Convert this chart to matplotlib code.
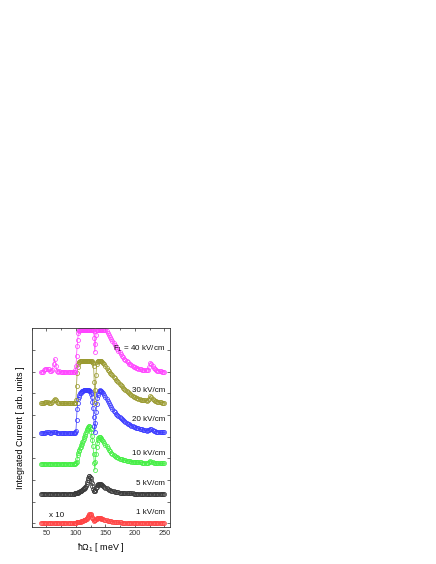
import numpy as np
import matplotlib
matplotlib.use('Agg')
import matplotlib.pyplot as plt
from matplotlib.ticker import MultipleLocator

plt.rcParams['font.family'] = ['Liberation Sans', 'DejaVu Sans']
plt.rcParams['mathtext.fontset'] = 'custom'
plt.rcParams['mathtext.rm'] = 'Liberation Sans'
plt.rcParams['mathtext.it'] = 'Liberation Sans'

# photon energy grid (meV): coarse, fine around the resonance, coarse
energy = np.concatenate([np.arange(40, 95, 2), np.arange(96, 145, 1), np.arange(146, 251, 2)])

# --- curves (relative to their own baseline) ---
i_1kV = ([0.0] * 28 +
         [0, 0, 0, 0, 0, 0.01, 0.01, 0.02, 0.02, 0.03,
          0.04, 0.05, 0.05, 0.06, 0.07, 0.08, 0.09, 0.1, 0.11, 0.12,
          0.14, 0.16, 0.18, 0.21, 0.25, 0.3, 0.35, 0.39, 0.4, 0.38,
          0.34, 0.28, 0.22, 0.16, 0.11, 0.09, 0.1, 0.12, 0.15, 0.18,
          0.2, 0.22, 0.23, 0.23, 0.22, 0.21, 0.2, 0.19, 0.18] +
         [0.16, 0.14, 0.12, 0.1, 0.09, 0.08, 0.07, 0.06, 0.05, 0.04,
          0.03, 0.03, 0.02, 0.02, 0.01, 0.01] + [0.0] * 37)

i_5kV = ([0.0] * 28 +
         [0, 0, 0.01, 0.01, 0.02, 0.03, 0.04, 0.05, 0.06, 0.08,
          0.09, 0.11, 0.12, 0.14, 0.16, 0.18, 0.2, 0.22, 0.25, 0.28,
          0.32, 0.37, 0.44, 0.53, 0.62, 0.72, 0.79, 0.8, 0.77, 0.7,
          0.6, 0.47, 0.34, 0.22, 0.13, 0.1, 0.12, 0.18, 0.25, 0.32,
          0.38, 0.42, 0.45, 0.46, 0.46, 0.45, 0.43, 0.41, 0.39] +
         [0.35, 0.31, 0.27, 0.24, 0.21, 0.18, 0.16, 0.14, 0.12, 0.1,
          0.09, 0.08, 0.07, 0.06, 0.05, 0.04, 0.04, 0.03, 0.03, 0.02,
          0.02, 0.02, 0.01, 0.01, 0.01, 0.01] + [0.0] * 27)

i_10kV = ([0.0] * 28 +
          [0, 0, 0, 0.01, 0.03, 0.09, 0.22, 0.38, 0.5, 0.58,
           0.65, 0.72, 0.78, 0.85, 0.92, 0.99, 1.06, 1.14, 1.22, 1.3,
           1.38, 1.46, 1.54, 1.61, 1.67, 1.71, 1.73, 1.72, 1.68, 1.6,
           1.48, 1.3, 1.08, 0.8, 0.45, 0.05, -0.3, 0.1, 0.45, 0.75,
           0.95, 1.08, 1.17, 1.22, 1.23, 1.22, 1.19, 1.15, 1.1] +
          [1.03, 0.95, 0.88, 0.8, 0.72, 0.64, 0.57, 0.5, 0.45, 0.4,
           0.36, 0.32, 0.29, 0.26, 0.24, 0.22, 0.2, 0.18, 0.16, 0.15,
           0.14, 0.13, 0.12, 0.11, 0.1, 0.09, 0.09, 0.08, 0.08, 0.07,
           0.07, 0.06, 0.06, 0.05, 0.05, 0.05, 0.04, 0.04, 0.05, 0.08,
           0.12, 0.1, 0.07, 0.05, 0.04, 0.03, 0.03, 0.02, 0.02, 0.02,
           0.01, 0.01, 0.01])

i_20kV = ([0, 0, 0, 0, 0.01, 0.02, 0.03, 0.02, 0.01, 0.01,
           0.02, 0.04, 0.06, 0.03, 0.01, 0] + [0.0] * 12 +
          [0, 0, 0, 0.02, 0.1, 0.6, 1.1, 1.4, 1.58, 1.68,
           1.76, 1.82, 1.86, 1.89, 1.92, 1.94, 1.95, 1.96, 1.97, 1.98,
           1.98, 1.98, 1.98, 1.98, 1.98, 1.98, 1.97, 1.95, 1.92, 1.87,
           1.78, 1.65, 1.45, 1.15, 0.75, 0.3, 0.02, 0.45, 0.95, 1.35,
           1.6, 1.76, 1.86, 1.92, 1.95, 1.96, 1.95, 1.93, 1.9] +
          [1.84, 1.76, 1.66, 1.56, 1.46, 1.37, 1.28, 1.19, 1.11, 1.03,
           0.96, 0.89, 0.83, 0.77, 0.72, 0.67, 0.62, 0.58, 0.54, 0.5,
           0.46, 0.43, 0.4, 0.37, 0.34, 0.31, 0.29, 0.27, 0.25, 0.23,
           0.21, 0.19, 0.17, 0.16, 0.14, 0.13, 0.12, 0.11, 0.12, 0.15,
           0.2, 0.18, 0.13, 0.09, 0.07, 0.06, 0.05, 0.04, 0.04, 0.03,
           0.03, 0.02, 0.02])

i_30kV = ([0, 0, 0.01, 0.03, 0.06, 0.08, 0.07, 0.04, 0.02, 0.03,
           0.06, 0.14, 0.2, 0.15, 0.06, 0.02, 0.01, 0, 0, 0,
           0, 0, 0, 0, 0, 0, 0, 0] +
          [0, 0, 0.01, 0.03, 0.15, 0.8, 1.4, 1.7, 1.84, 1.9,
           1.93, 1.95, 1.96, 1.96, 1.96, 1.96, 1.96, 1.96, 1.96, 1.96,
           1.96, 1.96, 1.96, 1.96, 1.96, 1.96, 1.96, 1.96, 1.96, 1.95,
           1.95, 1.94, 1.92, 1.88, 1.75, 1.0, 0.02, 0.6, 1.3, 1.8,
           1.93, 1.95, 1.96, 1.96, 1.96, 1.96, 1.96, 1.95, 1.93] +
          [1.88, 1.8, 1.72, 1.64, 1.56, 1.49, 1.42, 1.36, 1.29, 1.23,
           1.16, 1.1, 1.03, 0.97, 0.91, 0.85, 0.79, 0.73, 0.67, 0.62,
           0.57, 0.52, 0.47, 0.43, 0.39, 0.35, 0.32, 0.29, 0.26, 0.24,
           0.22, 0.2, 0.18, 0.17, 0.16, 0.15, 0.14, 0.13, 0.14, 0.22,
           0.33, 0.3, 0.22, 0.16, 0.12, 0.1, 0.08, 0.07, 0.06, 0.05,
           0.04, 0.04, 0.03])

i_40kV = ([0, 0.01, 0.04, 0.1, 0.15, 0.18, 0.18, 0.14, 0.08, 0.05,
           0.12, 0.4, 0.63, 0.3, 0.06, 0.04, 0.07, 0.03, 0.02, 0.04,
           0.02, 0.03, 0.02, 0.03, 0.02, 0.02, 0.03, 0.02] +
          [0.02, 0.02, 0.03, 0.1, 0.28, 0.74, 1.2, 1.5, 1.8, 1.92,
           1.96, 1.97] + [1.97] * 22 +
          [1.93, 1.6, 0.95, 1.3, 1.75, 1.94] + [1.97] * 9 +
          [1.97, 1.96, 1.95, 1.9, 1.82, 1.72, 1.62, 1.53, 1.45, 1.37,
           1.28, 1.19, 1.1, 1.01, 0.93, 0.85, 0.77, 0.7, 0.63, 0.57,
           0.51, 0.46, 0.41, 0.37, 0.33, 0.29, 0.26, 0.23, 0.21, 0.19,
           0.17, 0.15, 0.14, 0.13, 0.12, 0.11, 0.1, 0.1, 0.12, 0.25,
           0.44, 0.4, 0.28, 0.2, 0.15, 0.11, 0.09, 0.07, 0.06, 0.05,
           0.04, 0.03, 0.03])

series = [i_1kV, i_5kV, i_10kV, i_20kV, i_30kV, i_40kV]
offsets = [0.03, 1.37, 2.75, 4.17, 5.53, 6.96]
colors = ['#ff4444', '#3a3a3a', '#44ee44', '#3b3bff', '#9a9a30', '#ff44ff']
labels = ['1 kV/cm', '5 kV/cm', '10 kV/cm', '20 kV/cm', '30 kV/cm', r'F$_1$ = 40 kV/cm']
label_y = [0.51, 1.85, 3.23, 4.77, 6.15, 8.03]

fig = plt.figure(figsize=(4.36, 5.64), dpi=100)
ax = fig.add_axes([0.0727, 0.0656, 0.3165, 0.3528])

for vals, off, c in zip(series, offsets, colors):
    y = np.asarray(vals, dtype=float) + off
    ax.plot(energy, y, '-', color=c, lw=0.5, marker='o', ms=2.9,
            mfc='none', mec=c, mew=0.55, clip_on=True)

for lab, ly in zip(labels, label_y):
    ax.text(251, ly, lab, ha='right', va='center', fontsize=5.8, color='#111111')
ax.text(67, 0.36, 'x 10', ha='center', va='center', fontsize=5.8, color='#111111')

ax.set_xlim(25, 259)
ax.set_ylim(-0.17, 9.01)
ax.set_xticks([50, 100, 150, 200, 250])
ax.xaxis.set_minor_locator(MultipleLocator(25))
ax.set_yticks(range(0, 9))
ax.set_yticklabels([])
ax.tick_params(which='both', direction='in', top=True, right=True, width=0.5,
               colors='#333333', labelsize=5.3, pad=2)
ax.tick_params(which='major', length=2.5)
ax.tick_params(which='minor', length=1.5)
for s in ax.spines.values():
    s.set_linewidth(0.6)
    s.set_color('#333333')

ax.set_xlabel(r'$\hbar\Omega_1$ [ meV ]', fontsize=6.4, labelpad=3)
ax.set_ylabel('Integrated Current [ arb. units ]', fontsize=6.4, labelpad=3)

fig.savefig('out.png', dpi=100)
